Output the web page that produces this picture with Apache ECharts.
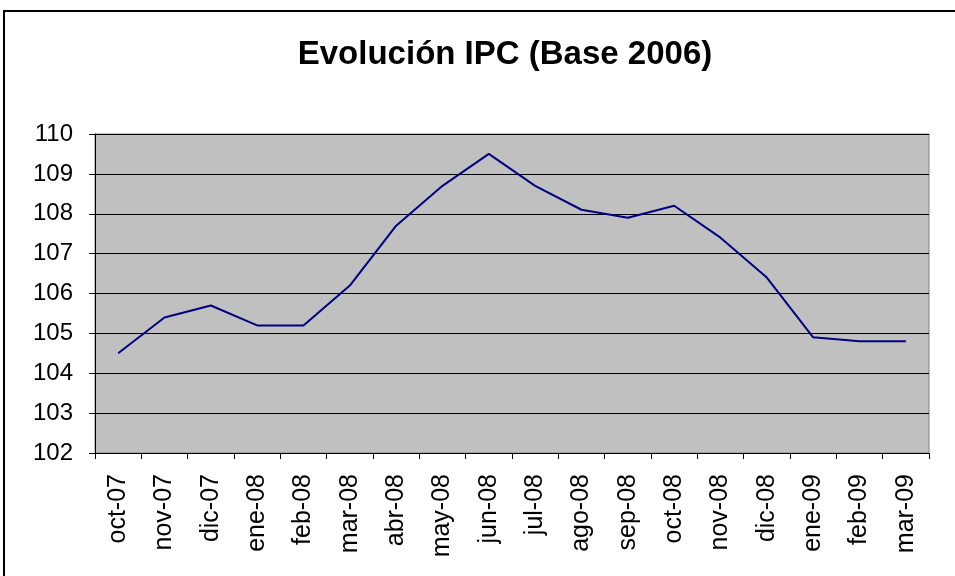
<!DOCTYPE html>
<html>
<head>
<meta charset="utf-8">
<script src="https://cdn.jsdelivr.net/npm/echarts@6/dist/echarts.min.js"></script>
<style>
  html, body { margin: 0; padding: 0; background: #fff; }
  #main { width: 955px; height: 576px; }
</style>
</head>
<body>
<div id="main"></div>
<script type="text/javascript">
	// 数据
	var months = ['oct-07', 'nov-07', 'dic-07', 'ene-08', 'feb-08', 'mar-08', 'abr-08', 'may-08', 'jun-08',
		'jul-08', 'ago-08', 'sep-08', 'oct-08', 'nov-08', 'dic-08', 'ene-09', 'feb-09', 'mar-09'];
	var ipc = [104.5, 105.4, 105.7, 105.2, 105.2, 106.2, 107.7, 108.7, 109.5,
		108.7, 108.1, 107.9, 108.2, 107.4, 106.4, 104.9, 104.8, 104.8];

	var myChart = echarts.init(document.getElementById('main'));

	var option = {
		backgroundColor: '#fff',
		animation: false,
		title: {
			text: 'Evolución IPC (Base 2006)',
			left: 500,
			textAlign: 'center',
			top: 33,
			textStyle: { fontFamily: 'Liberation Sans', fontSize: 33, fontWeight: 'bold', color: '#000' }
		},
		// 外框
		graphic: [{
			type: 'rect',
			shape: { x: 4, y: 11, width: 1000, height: 1000 },
			style: { fill: 'none', stroke: '#000', lineWidth: 2 },
			z: 100
		}],
		grid: {
			left: 95, top: 134, right: 26, bottom: 123,
			show: true,
			backgroundColor: '#c0c0c0',
			borderColor: '#808080',
			borderWidth: 1
		},
		xAxis: {
			type: 'category',
			data: months,
			boundaryGap: true,
			axisLine: { lineStyle: { color: '#000', width: 1 } },
			axisTick: { show: true, length: 6, lineStyle: { color: '#000' } },
			axisLabel: {
				rotate: 90, interval: 0, margin: 21,
				fontFamily: 'Liberation Sans', fontSize: 25, color: '#000'
			}
		},
		yAxis: {
			type: 'value',
			min: 102, max: 110, interval: 1,
			axisLine: { show: true, lineStyle: { color: '#000', width: 1 } },
			axisTick: { show: true, length: 6, lineStyle: { color: '#000' } },
			axisLabel: { margin: 22, fontFamily: 'Liberation Sans', fontSize: 24, color: '#000' },
			splitLine: { show: true, lineStyle: { color: '#000', width: 1 } }
		},
		series: [{
			name: 'IPC',
			type: 'line',
			data: ipc,
			showSymbol: false,
			lineStyle: { color: '#000080', width: 2 },
			itemStyle: { color: '#000080' }
		}]
	};

	myChart.setOption(option);
</script>
</body>
</html>
